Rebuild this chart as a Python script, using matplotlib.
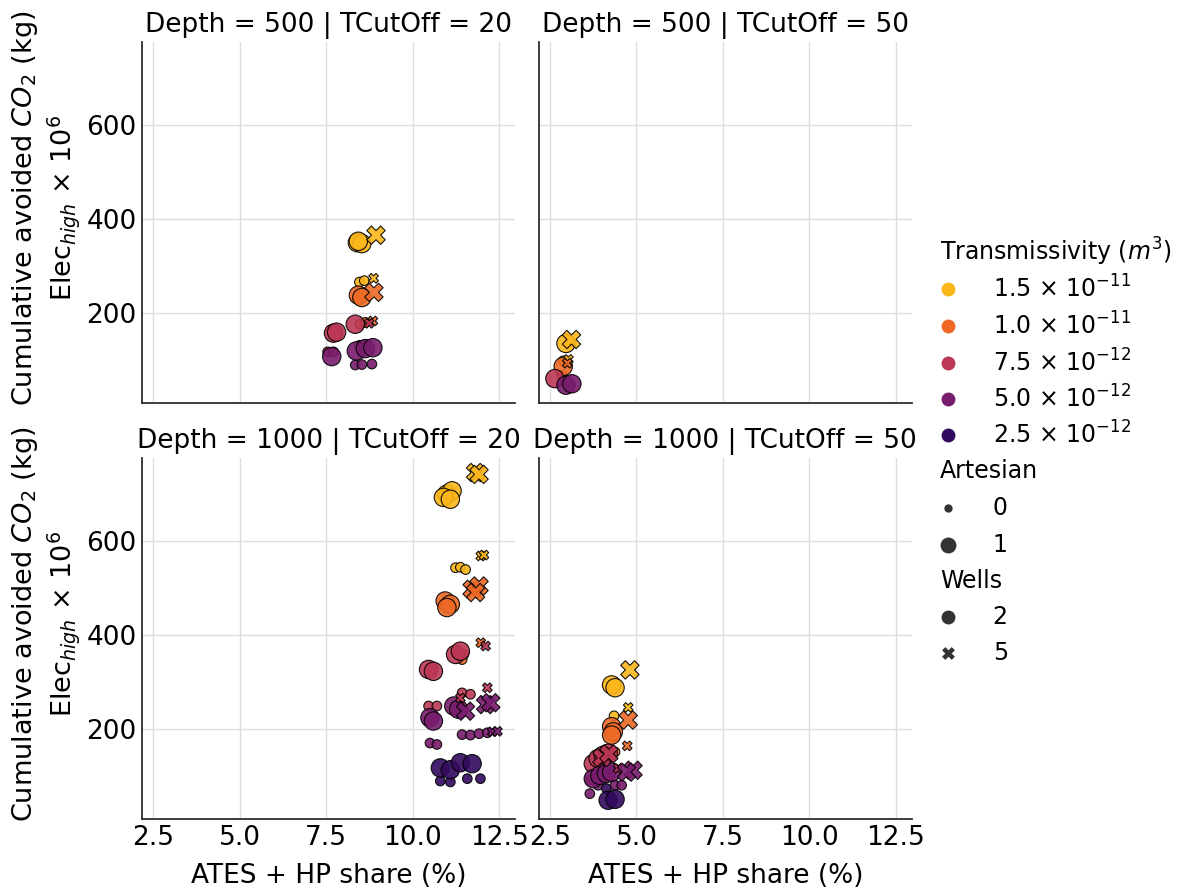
import matplotlib
matplotlib.use("Agg")
import matplotlib.pyplot as plt
import numpy as np

plt.rcParams['font.family'] = ['DejaVu Sans']
FS = 19
LFS = 17

# ---------------- data ----------------
panel_titles = ["Depth = 500 | TCutOff = 20", "Depth = 500 | TCutOff = 50",
                "Depth = 1000 | TCutOff = 20", "Depth = 1000 | TCutOff = 50"]

trans_labels = [r"1.5 $\times$ $10^{-11}$", r"1.0 $\times$ $10^{-11}$", r"7.5 $\times$ $10^{-12}$",
                r"5.0 $\times$ $10^{-12}$", r"2.5 $\times$ $10^{-12}$"]
trans_colors = ["#fbb61a", "#ed6925", "#bc3754", "#781c6d", "#320a5e"]
artesian_levels = [0, 1]
wells_levels = [2, 5]

# Depth 500 | TCutOff 20
d500_t20_share = [8.40, 8.53, 8.43, 8.94, 8.46, 8.60, 8.87, 8.43, 8.53, 8.88, 8.34, 7.71, 7.80, 8.48,
                  8.63, 8.85, 8.74, 7.66, 7.54, 7.71, 8.37, 8.63, 8.85, 8.46, 8.60, 8.34, 8.53, 8.82]
d500_t20_co2 = [349, 347, 352, 365, 265, 268, 273, 237, 232, 243, 175, 156, 158, 175,
                179, 182, 177, 106, 116, 116, 118, 123, 125, 130, 130, 88, 89, 90]
d500_t20_trans = [0, 0, 0, 0, 0, 0, 0, 1, 1, 1, 2, 2, 2, 1, 1, 1, 2, 3, 2, 2, 3, 3, 3, 2, 2, 3, 3, 3]
d500_t20_art = [1, 1, 1, 1, 0, 0, 0, 1, 1, 1, 1, 1, 1, 0, 0, 0, 0, 1, 0, 0, 1, 1, 1, 0, 0, 0, 0, 0]
d500_t20_wells = [2, 2, 2, 5, 2, 2, 5, 2, 2, 5, 2, 2, 2, 2, 2, 5, 5, 2, 2, 2, 2, 2, 2, 2, 2, 2, 2, 2]

# Depth 500 | TCutOff 50
d500_t50_share = [2.96, 3.10, 2.88, 3.03, 2.88, 2.84, 2.64, 2.96, 3.13, 3.00]
d500_t50_co2 = [134, 144, 97, 100, 85, 66, 59, 45, 48, 92]
d500_t50_trans = [0, 0, 0, 0, 1, 1, 2, 3, 3, 1]
d500_t50_art = [1, 1, 0, 0, 1, 0, 1, 1, 1, 0]
d500_t50_wells = [2, 5, 2, 5, 2, 2, 2, 2, 2, 5]

# Depth 1000 | TCutOff 20
d1000_t20_share = [10.99, 11.14, 10.89, 11.09, 11.82, 11.92, 11.24, 11.38, 11.53, 11.97, 12.06,
                   10.94, 11.09, 10.99, 11.72, 11.92, 11.82,
                   11.24, 11.38, 10.46, 10.60, 11.33, 11.48, 11.43, 11.97, 12.11,
                   11.43, 11.67, 12.16, 11.38, 10.46, 10.70,
                   10.50, 10.60, 11.19, 11.33, 11.53, 12.11, 12.26,
                   10.50, 10.70, 11.43, 11.67, 11.92, 12.16, 12.30, 12.45,
                   10.80, 11.09, 11.38, 11.72, 10.80, 11.09, 11.58, 11.96]
d1000_t20_co2 = [700, 707, 693, 689, 746, 742, 543, 544, 539, 568, 570,
                 472, 465, 458, 497, 504, 490,
                 358, 365, 326, 322, 362, 358, 347, 383, 376,
                 276, 273, 287, 265, 248, 248,
                 223, 216, 248, 241, 237, 251, 255,
                 169, 166, 187, 186, 189, 191, 193, 194,
                 116, 112, 127, 125, 88, 86, 93, 93]
d1000_t20_trans = [0, 0, 0, 0, 0, 0, 0, 0, 0, 0, 0,
                   1, 1, 1, 1, 1, 1,
                   2, 2, 2, 2, 1, 1, 1, 1, 2,
                   2, 2, 2, 2, 2, 2,
                   3, 3, 3, 3, 3, 3, 3,
                   3, 3, 3, 3, 3, 3, 3, 3,
                   4, 4, 4, 4, 4, 4, 4, 4]
d1000_t20_art = [1, 1, 1, 1, 1, 1, 0, 0, 0, 0, 0,
                 1, 1, 1, 1, 1, 1,
                 1, 1, 1, 1, 0, 0, 0, 0, 0,
                 0, 0, 0, 0, 0, 0,
                 1, 1, 1, 1, 1, 1, 1,
                 0, 0, 0, 0, 0, 0, 0, 0,
                 1, 1, 1, 1, 0, 0, 0, 0]
d1000_t20_wells = [2, 2, 2, 2, 5, 5, 2, 2, 2, 5, 5,
                   2, 2, 2, 5, 5, 5,
                   2, 2, 2, 2, 2, 2, 2, 5, 5,
                   2, 2, 5, 5, 2, 2,
                   2, 2, 2, 2, 5, 5, 5,
                   2, 2, 2, 2, 2, 2, 5, 5,
                   2, 2, 2, 2, 2, 2, 2, 2]

# Depth 1000 | TCutOff 50
d1000_t50_share = [4.81, 4.28, 4.38, 4.76, 4.35, 4.76, 4.28, 4.33, 4.28, 4.38, 4.73,
                   3.75, 3.89, 4.04, 4.18, 4.00, 4.20, 3.65,
                   3.75, 3.94, 4.13, 4.28, 4.90, 4.71, 3.65, 3.89, 4.38, 4.57, 4.47,
                   4.18, 4.38, 4.13]
d1000_t50_co2 = [325, 293, 287, 245, 227, 218, 204, 193, 186, 150, 163,
                 125, 136, 143, 147, 138, 146, 90,
                 93, 100, 104, 107, 111, 107, 61, 79, 79, 79, 115,
                 47, 49, 72]
d1000_t50_trans = [0, 0, 0, 0, 0, 1, 1, 1, 1, 1, 1,
                   2, 2, 2, 2, 2, 2, 2,
                   3, 3, 3, 3, 3, 3, 3, 3, 3, 3, 2,
                   4, 4, 4]
d1000_t50_art = [1, 1, 1, 0, 0, 1, 1, 1, 1, 0, 0,
                 1, 1, 1, 1, 1, 1, 0,
                 1, 1, 1, 1, 1, 1, 0, 0, 0, 0, 0,
                 1, 1, 0]
d1000_t50_wells = [5, 2, 2, 5, 2, 5, 2, 2, 2, 2, 5,
                   2, 2, 2, 2, 5, 5, 2,
                   2, 2, 2, 2, 5, 5, 2, 2, 2, 2, 5,
                   2, 2, 2]

panel_data = [
    (d500_t20_share, d500_t20_co2, d500_t20_trans, d500_t20_art, d500_t20_wells),
    (d500_t50_share, d500_t50_co2, d500_t50_trans, d500_t50_art, d500_t50_wells),
    (d1000_t20_share, d1000_t20_co2, d1000_t20_trans, d1000_t20_art, d1000_t20_wells),
    (d1000_t50_share, d1000_t50_co2, d1000_t50_trans, d1000_t50_art, d1000_t50_wells),
]

x_ticks = [2.5, 5.0, 7.5, 10.0, 12.5]
y_ticks = [200, 400, 600]

# ---------------- figure ----------------
fig = plt.figure(figsize=(11.89, 8.92), dpi=100)
W, H = 1189, 892
col_left = [142.3, 539]
ax_w = 372.7
row_top = [42, 458]
ax_h = 361

size_map = {0: 48, 1: 175}
marker_map = {2: 'o', 5: 'X'}

for k, title in enumerate(panel_titles):
    r, c = divmod(k, 2)
    ax = fig.add_axes([col_left[c] / W, 1 - (row_top[r] + ax_h) / H, ax_w / W, ax_h / H])
    ax.set_axisbelow(True)
    ax.grid(True, color='#dedede', linewidth=1)
    for s in ['top', 'right']:
        ax.spines[s].set_visible(False)
    for s in ['left', 'bottom']:
        ax.spines[s].set_color('#262626')
        ax.spines[s].set_linewidth(1.25)
    ax.tick_params(length=0, labelsize=FS, pad=4)
    ax.set_xlim(2.18, 12.96)
    ax.set_ylim(7, 777)
    ax.set_xticks(x_ticks)
    ax.set_yticks(y_ticks)
    ax.set_title(title, fontsize=FS, pad=7)

    xs, ys, ts, arts, wls = [np.array(v) for v in panel_data[k]]
    for w in wells_levels:
        for a in artesian_levels:
            m = (wls == w) & (arts == a)
            if not m.any():
                continue
            ax.scatter(xs[m], ys[m], s=size_map[a], marker=marker_map[w],
                       c=[trans_colors[t] for t in ts[m]], edgecolors='black',
                       linewidths=0.8, alpha=0.9, zorder=3)
    if r == 0:
        ax.tick_params(labelbottom=False)
    else:
        ax.set_xlabel("ATES + HP share (%)", fontsize=FS, labelpad=9)
    if c == 1:
        ax.tick_params(labelleft=False)
    else:
        ax.set_ylabel("Cumulative avoided $CO_2$ (kg)\nElec$_{high}$ $\\times$ $10^6$",
                      fontsize=19.5, labelpad=3)
        ax.yaxis.label.set_y(0.54)

# ---------------- legend (drawn manually) ----------------
lax = fig.add_axes([0, 0, 1, 1])
lax.set_xlim(0, W)
lax.set_ylim(H, 0)
lax.axis('off')

mx, tx, hx = 947.7, 992.7, 940
lax.text(hx, 252, r"Transmissivity ($m^3$)", fontsize=LFS, va='center', ha='left')
ys_leg = [289.3, 326, 362.7, 399.3, 435]
for yv, col, lab in zip(ys_leg, trans_colors, trans_labels):
    lax.scatter([mx], [yv], s=100, c=col, marker='o', linewidths=0)
    lax.text(tx, yv, lab, fontsize=LFS, va='center', ha='left')
lax.text(hx, 471, "Artesian", fontsize=LFS, va='center', ha='left')
for yv, a in zip([508, 545], artesian_levels):
    lax.scatter([mx], [yv], s=size_map[a] * 0.75, c='#333333', marker='o', linewidths=0)
    lax.text(tx, yv, str(a), fontsize=LFS, va='center', ha='left')
lax.text(hx, 581, "Wells", fontsize=LFS, va='center', ha='left')
for yv, w in zip([616.7, 653], wells_levels):
    lax.scatter([mx], [yv], s=100 if w == 2 else 85, c='#333333', marker=marker_map[w], linewidths=0)
    lax.text(tx, yv, str(w), fontsize=LFS, va='center', ha='left')

fig.savefig("out.png", dpi=100)
